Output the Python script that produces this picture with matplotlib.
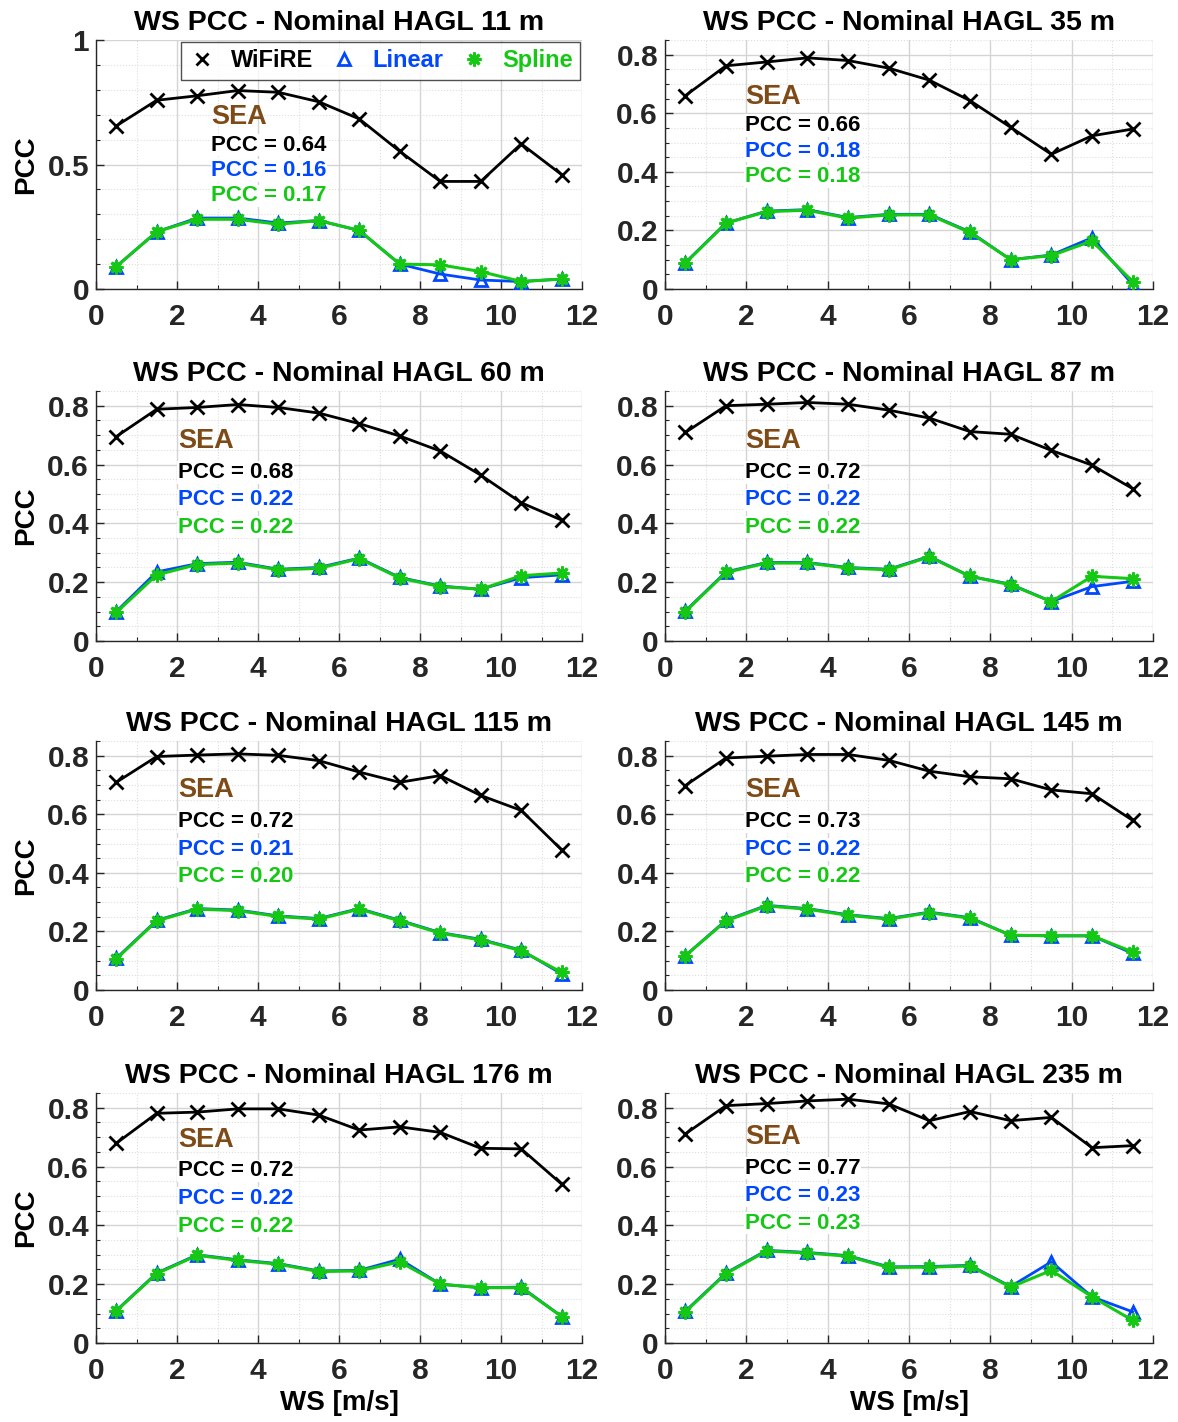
import matplotlib
matplotlib.use("Agg")
import matplotlib.pyplot as plt
from matplotlib.lines import Line2D
from matplotlib.ticker import MultipleLocator

plt.rcParams['font.family'] = ['Liberation Sans', 'DejaVu Sans']
plt.rcParams['font.weight'] = 'bold'

# ---------------- data ----------------
ws = [0.5, 1.5, 2.5, 3.5, 4.5, 5.5, 6.5, 7.5, 8.5, 9.5, 10.5, 11.5]
heights = [11, 35, 60, 87, 115, 145, 176, 235]

wifire_11 = [0.655, 0.758, 0.776, 0.797, 0.790, 0.752, 0.683, 0.553, 0.432, 0.432, 0.583, 0.459]
linear_11 = [0.090, 0.230, 0.285, 0.285, 0.265, 0.275, 0.235, 0.100, 0.060, 0.036, 0.030, 0.040]
spline_11 = [0.090, 0.230, 0.280, 0.280, 0.260, 0.275, 0.235, 0.100, 0.097, 0.070, 0.030, 0.040]

wifire_35 = [0.660, 0.762, 0.775, 0.789, 0.780, 0.754, 0.713, 0.643, 0.552, 0.460, 0.523, 0.546]
linear_35 = [0.090, 0.225, 0.266, 0.271, 0.244, 0.255, 0.255, 0.195, 0.100, 0.116, 0.175, 0.015]
spline_35 = [0.088, 0.225, 0.264, 0.269, 0.242, 0.253, 0.253, 0.193, 0.100, 0.114, 0.164, 0.025]

wifire_60 = [0.695, 0.788, 0.794, 0.804, 0.794, 0.775, 0.739, 0.697, 0.646, 0.564, 0.470, 0.411]
linear_60 = [0.100, 0.235, 0.263, 0.268, 0.244, 0.250, 0.282, 0.216, 0.187, 0.176, 0.215, 0.225]
spline_60 = [0.097, 0.225, 0.260, 0.265, 0.242, 0.247, 0.280, 0.214, 0.185, 0.176, 0.222, 0.231]

wifire_87 = [0.709, 0.800, 0.805, 0.811, 0.805, 0.785, 0.758, 0.712, 0.703, 0.648, 0.598, 0.518]
linear_87 = [0.102, 0.235, 0.267, 0.267, 0.250, 0.244, 0.288, 0.220, 0.193, 0.134, 0.185, 0.203]
spline_87 = [0.100, 0.233, 0.265, 0.265, 0.248, 0.242, 0.286, 0.220, 0.191, 0.134, 0.220, 0.212]

wifire_115 = [0.709, 0.797, 0.802, 0.806, 0.801, 0.783, 0.744, 0.709, 0.732, 0.664, 0.613, 0.478]
linear_115 = [0.108, 0.238, 0.278, 0.273, 0.253, 0.244, 0.278, 0.238, 0.196, 0.173, 0.136, 0.055]
spline_115 = [0.106, 0.236, 0.276, 0.271, 0.251, 0.242, 0.276, 0.236, 0.194, 0.171, 0.134, 0.060]

wifire_145 = [0.698, 0.792, 0.798, 0.804, 0.804, 0.784, 0.747, 0.728, 0.721, 0.683, 0.670, 0.579]
linear_145 = [0.117, 0.238, 0.289, 0.278, 0.257, 0.244, 0.266, 0.247, 0.187, 0.185, 0.185, 0.125]
spline_145 = [0.117, 0.236, 0.287, 0.276, 0.255, 0.242, 0.264, 0.245, 0.187, 0.185, 0.185, 0.130]

wifire_176 = [0.679, 0.781, 0.785, 0.796, 0.796, 0.775, 0.724, 0.735, 0.716, 0.662, 0.660, 0.540]
linear_176 = [0.110, 0.238, 0.300, 0.283, 0.270, 0.245, 0.247, 0.285, 0.200, 0.188, 0.190, 0.090]
spline_176 = [0.109, 0.236, 0.298, 0.281, 0.268, 0.243, 0.245, 0.276, 0.200, 0.188, 0.188, 0.090]

wifire_235 = [0.711, 0.807, 0.814, 0.823, 0.829, 0.813, 0.756, 0.787, 0.756, 0.767, 0.664, 0.671]
linear_235 = [0.108, 0.238, 0.315, 0.308, 0.297, 0.259, 0.260, 0.264, 0.192, 0.276, 0.157, 0.106]
spline_235 = [0.106, 0.236, 0.313, 0.306, 0.295, 0.257, 0.258, 0.262, 0.190, 0.247, 0.157, 0.077]

wifire_all = [wifire_11, wifire_35, wifire_60, wifire_87, wifire_115, wifire_145, wifire_176, wifire_235]
linear_all = [linear_11, linear_35, linear_60, linear_87, linear_115, linear_145, linear_176, linear_235]
spline_all = [spline_11, spline_35, spline_60, spline_87, spline_115, spline_145, spline_176, spline_235]

pcc_wifire = [0.64, 0.66, 0.68, 0.72, 0.72, 0.73, 0.72, 0.77]
pcc_linear = [0.16, 0.18, 0.22, 0.22, 0.21, 0.22, 0.22, 0.23]
pcc_spline = [0.17, 0.18, 0.22, 0.22, 0.20, 0.22, 0.22, 0.23]

# ---------------- layout / style ----------------
W, H = 1178, 1422
C_BLACK = 'black'
C_BLUE = '#0048FF'
C_GREEN = '#14C814'
C_BROWN = '#7E4A16'
C_TICK = '#262626'
ASTERISK = (8, 2, 0)

col_x = [(96, 582), (665, 1153)]
row_y = [(40, 289), (391, 641), (741, 990), (1093, 1343)]
# text anchor (x data, SEA y, first PCC y, step)
text_pos = [(2.85, 0.69, 0.578, 0.102),
            (1.97, 0.657, 0.558, 0.087),
            (2.02, 0.68, 0.573, 0.093),
            (1.97, 0.68, 0.573, 0.093),
            (2.02, 0.684, 0.574, 0.094),
            (1.97, 0.684, 0.574, 0.094),
            (2.02, 0.69, 0.585, 0.094),
            (1.97, 0.70, 0.595, 0.094)]

fig = plt.figure(figsize=(W / 100, H / 100), dpi=100)

for i, h in enumerate(heights):
    r, c = divmod(i, 2)
    x0, x1 = col_x[c]
    yt, yb = row_y[r]
    ax = fig.add_axes([x0 / W, 1 - yb / H, (x1 - x0) / W, (yb - yt) / H])

    ax.plot(ws, wifire_all[i], color=C_BLACK, lw=2, marker='x', ms=10, mew=2, zorder=3)
    ax.plot(ws, linear_all[i], color=C_BLUE, lw=2, marker='^', ms=9, mew=2,
            mfc='none', zorder=4)
    ax.plot(ws, spline_all[i], color=C_GREEN, lw=2.2, marker=ASTERISK, ms=10, mew=2,
            zorder=5)

    ax.set_xlim(0, 12)
    if i == 0:
        ax.set_ylim(0, 1)
        ax.yaxis.set_major_locator(MultipleLocator(0.5))
        ax.yaxis.set_minor_locator(MultipleLocator(0.1))
    else:
        ax.set_ylim(0, 0.85)
        ax.yaxis.set_major_locator(MultipleLocator(0.2))
        ax.yaxis.set_minor_locator(MultipleLocator(0.05))
    ax.xaxis.set_major_locator(MultipleLocator(2))
    ax.xaxis.set_minor_locator(MultipleLocator(1))

    ax.grid(True, which='major', color='#D4D4D4', lw=1.0)
    ax.grid(True, which='minor', color='#DEDEDE', lw=0.8, ls=':')
    ax.set_axisbelow(True)

    for s in ['top', 'right']:
        ax.spines[s].set_visible(False)
    for s in ['left', 'bottom']:
        ax.spines[s].set_color(C_TICK)
        ax.spines[s].set_linewidth(1.0)

    ax.tick_params(which='major', direction='in', length=6, width=1, colors=C_TICK,
                   labelsize=21.5)
    ax.tick_params(which='minor', direction='in', length=3, width=0.8, colors=C_TICK)
    ax.tick_params(axis='x', which='major', pad=10)
    ax.tick_params(axis='y', which='major', pad=5)
    for lab in ax.get_xticklabels() + ax.get_yticklabels():
        lab.set_fontweight('bold')
    ax.yaxis.set_major_formatter(matplotlib.ticker.FuncFormatter(
        lambda v, p: ('%g' % round(v, 2))))

    ax.set_title(f'WS PCC - Nominal HAGL {h} m', fontsize=20.5, fontweight='bold', pad=7)
    if c == 0:
        ax.set_ylabel('PCC', fontsize=20, fontweight='bold', labelpad=6)
    if r == 3:
        ax.set_xlabel('WS [m/s]', fontsize=20, fontweight='bold', labelpad=4)

    tx, sy, py, dy = text_pos[i]
    ax.text(tx, sy, 'SEA', color=C_BROWN, fontsize=19.5, fontweight='bold',
            va='center', ha='left', zorder=6)
    for k, (val, col) in enumerate([(pcc_wifire[i], C_BLACK), (pcc_linear[i], C_BLUE),
                                    (pcc_spline[i], C_GREEN)]):
        ax.text(tx, py - k * dy, f'PCC = {val:.2f}', color=col, fontsize=16,
                fontweight='bold', va='center', ha='left', zorder=6,
                bbox=dict(facecolor='white', edgecolor='none', pad=0.5))

    if i == 0:
        handles = [Line2D([], [], color=C_BLACK, marker='x', ls='none', ms=9, mew=2),
                   Line2D([], [], color=C_BLUE, marker='^', ls='none', ms=9, mew=2, mfc='none'),
                   Line2D([], [], color=C_GREEN, marker=ASTERISK, ls='none', ms=10, mew=2)]
        leg = ax.legend(handles, ['WiFiRE', 'Linear', 'Spline'], ncol=3,
                        loc='upper right', bbox_to_anchor=(1.0, 1.0),
                        fontsize=17, frameon=True, fancybox=False,
                        borderaxespad=0.1, handletextpad=0.6, columnspacing=0.7,
                        borderpad=0.3, handlelength=1.2)
        leg.get_frame().set_edgecolor(C_TICK)
        leg.get_frame().set_linewidth(1.0)
        for t, col in zip(leg.get_texts(), [C_BLACK, C_BLUE, C_GREEN]):
            t.set_color(col)
            t.set_fontweight('bold')

fig.savefig('out.png', dpi=100)
